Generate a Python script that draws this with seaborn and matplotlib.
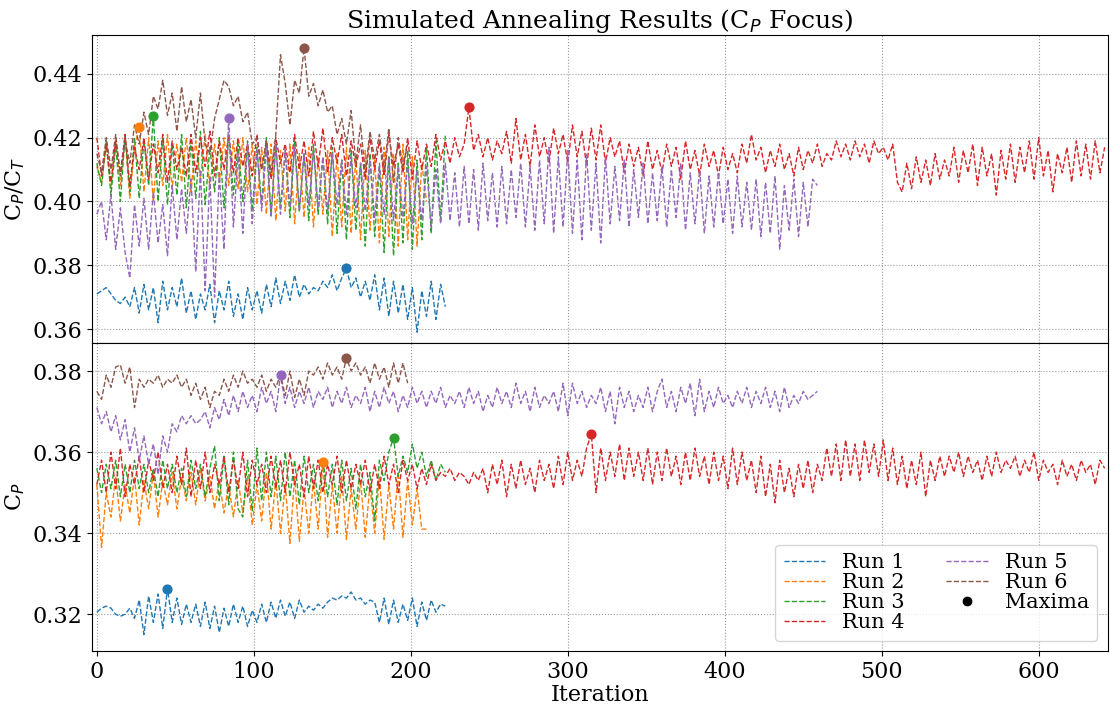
import numpy as np
import matplotlib
matplotlib.use("Agg")
import matplotlib.pyplot as plt
import seaborn as sns
from matplotlib.lines import Line2D

STEP = 3  # iterations between stored samples
runs = ["Run 1", "Run 2", "Run 3", "Run 4", "Run 5", "Run 6"]

# ---------------- C_P / C_T (top panel) ----------------
cpct_run1 = [
    0.371, 0.372, 0.373, 0.371, 0.369, 0.368,
    0.370, 0.367, 0.373, 0.365, 0.374, 0.366, 0.373, 0.362, 0.375, 0.366,
    0.373, 0.367, 0.376, 0.365, 0.372, 0.363, 0.371, 0.366, 0.374, 0.362,
    0.372, 0.366, 0.375, 0.364, 0.371, 0.363, 0.373, 0.366, 0.372, 0.365,
    0.374, 0.367, 0.376, 0.368, 0.375, 0.369, 0.377, 0.370, 0.374, 0.371,
    0.373, 0.372, 0.375, 0.373, 0.377, 0.372, 0.376, 0.379, 0.373, 0.376,
    0.370, 0.375, 0.369, 0.377, 0.366, 0.376, 0.364, 0.375, 0.365, 0.374,
    0.363, 0.373, 0.359, 0.372, 0.364, 0.375, 0.363, 0.374, 0.367,
]
cpct_run2 = [
    0.411, 0.406, 0.418, 0.404, 0.419, 0.405, 0.420, 0.401, 0.417, 0.4235,
    0.403, 0.420, 0.400, 0.419, 0.405, 0.421, 0.404, 0.418, 0.406, 0.420,
    0.403, 0.419, 0.407, 0.421, 0.404, 0.418, 0.406, 0.420, 0.405, 0.419,
    0.404, 0.420, 0.403, 0.418, 0.399, 0.417, 0.396, 0.418, 0.394, 0.416,
    0.397, 0.418, 0.393, 0.415, 0.395, 0.417, 0.392, 0.414, 0.396, 0.416,
    0.389, 0.415, 0.392, 0.417, 0.390, 0.414, 0.388, 0.416, 0.391, 0.413,
    0.387, 0.417, 0.389, 0.415, 0.386, 0.418, 0.388, 0.414, 0.386, 0.412, 0.400,
]
cpct_run3 = [
    0.412, 0.405, 0.419, 0.402, 0.418, 0.400, 0.421, 0.403, 0.420, 0.401,
    0.419, 0.405, 0.4267, 0.400, 0.420, 0.399, 0.418, 0.402, 0.421, 0.398,
    0.419, 0.401, 0.422, 0.399, 0.417, 0.403, 0.420, 0.398, 0.421, 0.402,
    0.418, 0.400, 0.419, 0.397, 0.417, 0.399, 0.420, 0.396, 0.418, 0.398,
    0.416, 0.395, 0.419, 0.397, 0.415, 0.394, 0.418, 0.396, 0.414, 0.393,
    0.417, 0.390, 0.413, 0.388, 0.416, 0.391, 0.412, 0.386, 0.415, 0.389,
    0.411, 0.384, 0.414, 0.383, 0.412, 0.387, 0.416, 0.385, 0.413, 0.388,
    0.417, 0.390, 0.419, 0.394, 0.421,
]
cpct_run4 = [
    0.420, 0.408, 0.418, 0.406, 0.419, 0.409, 0.421, 0.405, 0.417, 0.410,
    0.420, 0.407, 0.418, 0.409, 0.421, 0.406, 0.419, 0.410, 0.417, 0.408,
    0.421, 0.409, 0.420, 0.411, 0.422, 0.408, 0.419, 0.410, 0.421, 0.409,
    0.420, 0.411, 0.418, 0.408, 0.421, 0.410, 0.419, 0.407, 0.420, 0.412,
    0.418, 0.409, 0.421, 0.410, 0.419, 0.408, 0.422, 0.411, 0.423, 0.409,
    0.420, 0.412, 0.421, 0.408, 0.419, 0.411, 0.418, 0.407, 0.420, 0.410,
    0.419, 0.408, 0.421, 0.411, 0.418, 0.409, 0.420, 0.407, 0.419, 0.410,
    0.418, 0.411, 0.421, 0.413, 0.419, 0.412, 0.420, 0.414, 0.418, 0.4295,
    0.416, 0.421, 0.414, 0.420, 0.413, 0.419, 0.415, 0.422, 0.412, 0.426,
    0.413, 0.421, 0.411, 0.424, 0.414, 0.420, 0.412, 0.423, 0.415, 0.421,
    0.412, 0.424, 0.414, 0.422, 0.411, 0.423, 0.413, 0.424, 0.412, 0.420,
    0.414, 0.419, 0.409, 0.418, 0.411, 0.417, 0.408, 0.419, 0.410, 0.416,
    0.409, 0.418, 0.411, 0.417, 0.407, 0.419, 0.410, 0.416, 0.408, 0.418,
    0.411, 0.416, 0.408, 0.417, 0.410, 0.415, 0.409, 0.418, 0.412, 0.421,
    0.413, 0.417, 0.409, 0.416, 0.411, 0.418, 0.410, 0.415, 0.408, 0.417,
    0.410, 0.416, 0.412, 0.418, 0.411, 0.415, 0.413, 0.419, 0.414, 0.418,
    0.413, 0.419, 0.414, 0.418, 0.412, 0.419, 0.415, 0.417, 0.413, 0.418,
    0.406, 0.403, 0.412, 0.404, 0.414, 0.406, 0.413, 0.405, 0.415, 0.407,
    0.413, 0.408, 0.417, 0.406, 0.416, 0.409, 0.418, 0.405, 0.417, 0.408,
    0.415, 0.402, 0.416, 0.407, 0.418, 0.406, 0.417, 0.409, 0.419, 0.407,
    0.420, 0.408, 0.416, 0.403, 0.415, 0.409, 0.417, 0.406, 0.419, 0.408,
    0.418, 0.407, 0.419, 0.409, 0.417,
]
cpct_run5 = [
    0.396, 0.400, 0.388, 0.402, 0.385, 0.398, 0.384, 0.376, 0.399, 0.386,
    0.401, 0.385, 0.403, 0.387, 0.399, 0.383, 0.405, 0.388, 0.404, 0.390,
    0.407, 0.378, 0.410, 0.372, 0.408, 0.370, 0.409, 0.385, 0.4263, 0.392,
    0.415, 0.390, 0.418, 0.393, 0.416, 0.397, 0.417, 0.395, 0.418, 0.396,
    0.416, 0.398, 0.417, 0.397, 0.415, 0.399, 0.416, 0.398, 0.414, 0.397,
    0.415, 0.399, 0.413, 0.396, 0.414, 0.398, 0.412, 0.397, 0.413, 0.395,
    0.412, 0.396, 0.414, 0.394, 0.411, 0.395, 0.412, 0.393, 0.410, 0.394,
    0.411, 0.392, 0.410, 0.393, 0.412, 0.394, 0.409, 0.392, 0.411, 0.393,
    0.410, 0.391, 0.412, 0.394, 0.409, 0.392, 0.411, 0.393, 0.410, 0.395,
    0.412, 0.392, 0.411, 0.391, 0.413, 0.393, 0.417, 0.390, 0.414, 0.392,
    0.416, 0.390, 0.413, 0.388, 0.415, 0.391, 0.412, 0.387, 0.414, 0.393,
    0.411, 0.394, 0.413, 0.392, 0.410, 0.395, 0.412, 0.393, 0.409, 0.394,
    0.411, 0.392, 0.410, 0.395, 0.412, 0.391, 0.409, 0.393, 0.410, 0.390,
    0.408, 0.392, 0.409, 0.393, 0.407, 0.390, 0.408, 0.392, 0.406, 0.391,
    0.407, 0.389, 0.406, 0.390, 0.408, 0.385, 0.405, 0.391, 0.407, 0.389,
    0.406, 0.392, 0.407, 0.405,
]
cpct_run6 = [
    0.415, 0.409, 0.420, 0.410, 0.421, 0.408, 0.419, 0.412, 0.424, 0.418,
    0.428, 0.421, 0.433, 0.429, 0.438, 0.427, 0.434, 0.422, 0.436, 0.425,
    0.432, 0.420, 0.434, 0.418, 0.415, 0.426, 0.432, 0.438, 0.436, 0.430,
    0.433, 0.425, 0.428, 0.418, 0.420, 0.410,
    0.419, 0.409, 0.421, 0.446, 0.437, 0.424, 0.438, 0.434, 0.4482, 0.433,
    0.437, 0.430, 0.435, 0.428,
    0.430, 0.421, 0.426, 0.418, 0.4285, 0.412, 0.424, 0.409, 0.422, 0.413,
    0.421, 0.410, 0.423, 0.406, 0.420, 0.411, 0.418,
]

# ---------------- C_P (bottom panel) ----------------
cp_run1 = [
    0.3205, 0.3215, 0.3220, 0.3215, 0.3200, 0.3195, 0.3200, 0.3215, 0.3190, 0.3235,
    0.3150, 0.3245, 0.3180, 0.3250, 0.3165, 0.3263, 0.3180, 0.3240, 0.3175, 0.3225,
    0.3180, 0.3225, 0.3170, 0.3230, 0.3165, 0.3220, 0.3155, 0.3215, 0.3170, 0.3225,
    0.3180, 0.3220, 0.3170, 0.3210, 0.3180, 0.3225, 0.3180, 0.3230, 0.3190, 0.3235,
    0.3195, 0.3230, 0.3190, 0.3235, 0.3205, 0.3220, 0.3210, 0.3225, 0.3215, 0.3230,
    0.3240, 0.3235, 0.3245, 0.3240, 0.3255, 0.3235, 0.3240, 0.3225, 0.3235, 0.3230,
    0.3180, 0.3240, 0.3175, 0.3235, 0.3180, 0.3225, 0.3185, 0.3240, 0.3170, 0.3230,
    0.3185, 0.3235, 0.3205, 0.3225, 0.3220,
]
cp_run2 = [
    0.352, 0.3365, 0.350, 0.344, 0.354, 0.343, 0.352, 0.345, 0.354, 0.342,
    0.353, 0.346, 0.355, 0.344, 0.353, 0.347, 0.355, 0.346, 0.354, 0.348,
    0.355, 0.347, 0.356, 0.348, 0.354, 0.346, 0.353, 0.345, 0.352, 0.344,
    0.353, 0.345, 0.354, 0.342, 0.352, 0.343, 0.355, 0.341, 0.353, 0.340,
    0.352, 0.3375, 0.354, 0.338, 0.351, 0.340, 0.353, 0.341, 0.3575, 0.339,
    0.352, 0.340, 0.354, 0.3385, 0.351, 0.341, 0.353, 0.339, 0.352, 0.340,
    0.354, 0.3385, 0.352, 0.341, 0.355, 0.339, 0.353, 0.342, 0.351, 0.341, 0.341,
]
cp_run3 = [
    0.356, 0.350, 0.357, 0.351, 0.358, 0.349, 0.357, 0.350, 0.358, 0.351,
    0.357, 0.350, 0.356, 0.349, 0.358, 0.351, 0.357, 0.350, 0.356, 0.349,
    0.358, 0.351, 0.357, 0.349, 0.356, 0.3615, 0.348, 0.359, 0.347, 0.360,
    0.346, 0.344, 0.358, 0.3455, 0.361, 0.348, 0.360, 0.349, 0.359, 0.348,
    0.360, 0.349, 0.358, 0.347, 0.359, 0.350, 0.357, 0.348, 0.358, 0.349,
    0.357, 0.347, 0.358, 0.348, 0.356, 0.346, 0.357, 0.349, 0.355, 0.343,
    0.358, 0.353, 0.360, 0.3635, 0.354, 0.359, 0.355, 0.362, 0.356, 0.360,
    0.354, 0.358, 0.353, 0.357, 0.355,
]
cp_run4 = [
    0.352, 0.358, 0.350, 0.360, 0.351, 0.361, 0.349, 0.357, 0.352, 0.359,
    0.350, 0.358, 0.353, 0.360, 0.351, 0.357, 0.350, 0.359, 0.352, 0.361,
    0.349, 0.358, 0.351, 0.360, 0.350, 0.357, 0.352, 0.359, 0.350, 0.358,
    0.351, 0.360, 0.349, 0.358, 0.352, 0.357, 0.350, 0.359, 0.351, 0.358,
    0.350, 0.360, 0.352, 0.357, 0.349, 0.359, 0.351, 0.358, 0.350, 0.357,
    0.352, 0.359, 0.350, 0.358, 0.351, 0.357, 0.352, 0.358, 0.350, 0.357,
    0.351, 0.359, 0.352, 0.357, 0.350, 0.358, 0.353, 0.357, 0.351, 0.356,
    0.352, 0.357, 0.353, 0.355, 0.354, 0.356, 0.353, 0.355, 0.354, 0.352,
    0.355, 0.353, 0.356, 0.350, 0.357, 0.352, 0.358, 0.349, 0.357, 0.351,
    0.358, 0.352, 0.356, 0.350, 0.358, 0.353, 0.357, 0.351, 0.359, 0.352,
    0.360, 0.353, 0.358, 0.354, 0.361, 0.3645, 0.350, 0.361, 0.353, 0.360,
    0.354, 0.362, 0.353, 0.361, 0.354, 0.360, 0.353, 0.361, 0.352, 0.360,
    0.353, 0.361, 0.354, 0.359, 0.352, 0.360, 0.353, 0.361, 0.354, 0.359,
    0.352, 0.360, 0.353, 0.359, 0.351, 0.361, 0.352, 0.360, 0.353, 0.358,
    0.350, 0.359, 0.349, 0.357, 0.3475, 0.358, 0.350, 0.356, 0.349, 0.357,
    0.351, 0.358, 0.350, 0.357, 0.353, 0.361, 0.354, 0.362, 0.353, 0.363,
    0.354, 0.362, 0.353, 0.363, 0.355, 0.362, 0.354, 0.363, 0.353, 0.361,
    0.352, 0.359, 0.351, 0.358, 0.352, 0.360, 0.349, 0.358, 0.353, 0.359,
    0.354, 0.359, 0.355, 0.360, 0.354, 0.359, 0.355, 0.358, 0.353, 0.359,
    0.354, 0.360, 0.355, 0.358, 0.356, 0.359, 0.354, 0.358, 0.355, 0.360,
    0.353, 0.358, 0.355, 0.357, 0.352, 0.358, 0.354, 0.357, 0.353, 0.358,
    0.355, 0.357, 0.352, 0.358, 0.356,
]
cp_run5 = [
    0.371, 0.367, 0.370, 0.365, 0.369, 0.363, 0.368, 0.360, 0.366, 0.358,
    0.364, 0.357, 0.362, 0.3545, 0.364, 0.360, 0.367, 0.365, 0.369, 0.367,
    0.369, 0.367, 0.368, 0.370, 0.366, 0.371, 0.368, 0.373, 0.369, 0.374,
    0.370, 0.375, 0.371, 0.374, 0.370, 0.376, 0.372, 0.375, 0.370, 0.379,
    0.372, 0.376, 0.371, 0.375, 0.372, 0.376, 0.371, 0.375, 0.373, 0.376,
    0.371, 0.375, 0.372, 0.376, 0.371, 0.374, 0.372, 0.376, 0.370, 0.375,
    0.371, 0.376, 0.372, 0.375, 0.370, 0.374, 0.371, 0.376, 0.372, 0.375,
    0.371, 0.375, 0.372, 0.376, 0.371, 0.374, 0.372, 0.375, 0.371, 0.376,
    0.372, 0.375, 0.370, 0.374, 0.371, 0.376, 0.372, 0.375, 0.371, 0.377,
    0.372, 0.375, 0.370, 0.376, 0.371, 0.374, 0.372, 0.375, 0.370, 0.377,
    0.369, 0.377, 0.372, 0.375, 0.371, 0.374, 0.372, 0.376, 0.370, 0.375,
    0.367, 0.376, 0.371, 0.375, 0.370, 0.374, 0.371, 0.376, 0.370, 0.375,
    0.378, 0.371, 0.375, 0.370, 0.376, 0.372, 0.377, 0.369, 0.378, 0.370,
    0.375, 0.371, 0.376, 0.372, 0.374, 0.371, 0.375, 0.372, 0.376, 0.371,
    0.375, 0.372, 0.376, 0.371, 0.375, 0.370, 0.376, 0.371, 0.374, 0.372,
    0.375, 0.373, 0.374, 0.375,
]
cp_run6 = [
    0.375, 0.373, 0.379, 0.376, 0.381, 0.3815, 0.377, 0.381, 0.371, 0.378,
    0.376, 0.378, 0.377, 0.379, 0.376, 0.378, 0.377, 0.379, 0.376, 0.378,
    0.374, 0.377, 0.373, 0.376, 0.371, 0.375, 0.374, 0.378, 0.375, 0.379,
    0.376, 0.380, 0.377, 0.378, 0.376, 0.379, 0.375, 0.378, 0.376, 0.379,
    0.374, 0.380, 0.3735, 0.378, 0.374, 0.380, 0.379, 0.381, 0.378, 0.382,
    0.379, 0.381, 0.378, 0.3833, 0.380, 0.382, 0.379, 0.381, 0.377, 0.382,
    0.378, 0.381, 0.376, 0.382, 0.377, 0.382, 0.377,
]

cpct_runs = [cpct_run1, cpct_run2, cpct_run3, cpct_run4, cpct_run5, cpct_run6]
cp_runs = [cp_run1, cp_run2, cp_run3, cp_run4, cp_run5, cp_run6]

plt.rcParams["font.family"] = "DejaVu Serif"
plt.rcParams["mathtext.fontset"] = "dejavusans"
colors = sns.color_palette("tab10", 6)

fig, (ax1, ax2) = plt.subplots(2, 1, sharex=True, figsize=(11.1, 7.07), dpi=100)
fig.subplots_adjust(left=0.083, right=0.998, top=0.9505, bottom=0.079, hspace=0)

for ax, series in ((ax1, cpct_runs), (ax2, cp_runs)):
    for name, vals, c in zip(runs, series, colors):
        it = np.arange(len(vals)) * STEP
        sns.lineplot(x=it, y=vals, ax=ax, color=c, linestyle="--",
                     linewidth=1.0, estimator=None, legend=False)
        k = int(np.argmax(vals))
        ax.scatter([it[k]], [vals[k]], color=c, s=40, zorder=5)
    ax.grid(True, linestyle=":", color="#999999", linewidth=0.8)
    ax.tick_params(labelsize=16)

ax1.set_ylim(0.3556, 0.4522)
ax2.set_ylim(0.3109, 0.3869)
ax1.set_yticks([0.36, 0.38, 0.40, 0.42, 0.44])
ax2.set_yticks([0.32, 0.34, 0.36, 0.38])
ax2.set_xlim(-3, 644)
ax2.set_xticks([0, 100, 200, 300, 400, 500, 600])

ax1.set_title("Simulated Annealing Results (C$_P$ Focus)", fontsize=18, pad=5)
ax1.set_ylabel("C$_P$/C$_T$", fontsize=16)
ax2.set_ylabel("C$_P$", fontsize=16)
ax2.set_xlabel("Iteration", fontsize=16, labelpad=1)

handles = [Line2D([0], [0], color=c, linestyle="--", linewidth=1.0) for c in colors]
handles.append(Line2D([0], [0], marker="o", color="black", linestyle="None", markersize=6))
ax2.legend(handles, runs + ["Maxima"], ncol=2, loc="lower right", fontsize=15,
           labelspacing=0.05)

fig.savefig("out.png", dpi=100)
